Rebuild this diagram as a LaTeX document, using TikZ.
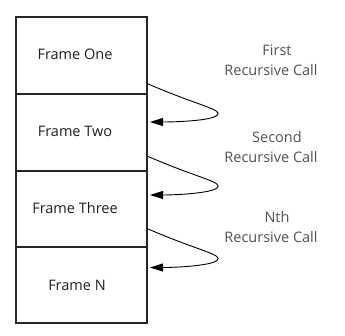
\documentclass[tikz,border=0pt]{standalone}
\usepackage{fontspec}
\setmainfont{Open Sans}
\usetikzlibrary{calc,arrows.meta}
\begin{document}
\begin{tikzpicture}[x=1pt,y=-1pt,
  frame/.style={draw=black!85,line width=1.2pt,minimum width=131pt,inner sep=0pt,outer sep=0pt},
  ftext/.style={anchor=base,font=\fontsize{14.5}{16}\selectfont,text=black!88},
  ctext/.style={anchor=base,font=\fontsize{14.5}{16}\selectfont,text=black!68},
  callarrow/.style={draw=black,line width=0.9pt,-{Triangle[length=13pt,width=8pt]}}]
\useasboundingbox (0,0) rectangle (345,336);
\node[frame,minimum height=77pt] (f1) at (81.5,55.5) {};
\node[frame,minimum height=77pt] (f2) at (81.5,132.5) {};
\node[frame,minimum height=76pt] (f3) at (81.5,209) {};
\node[frame,minimum height=76pt] (f4) at (81.5,285) {};
\node[ftext] (t1) at (75,60) {Frame One};
\node[ftext] (t2) at (75,137) {Frame Two};
\node[ftext] (t3) at (75,214) {Frame Three};
\node[ftext] (t4) at (77,290.5) {Frame N};
\node[ctext] (c1a) at (277,55.7) {First};
\node[ctext] (c1b) at (271,76) {Recursive Call};
\node[ctext] (c2a) at (277,142.7) {Second};
\node[ctext] (c2b) at (271,162.7) {Recursive Call};
\node[ctext] (c3a) at (277,222.7) {Nth};
\node[ctext] (c3b) at (271,242.7) {Recursive Call};
\coordinate (s1) at ($(f1.east)+(0,28)$);
\coordinate (s2) at ($(f2.east)+(0,23.5)$);
\coordinate (s3) at ($(f3.east)+(0,19.5)$);
\coordinate (e1) at ($(f2.east)+(3,-10.5)$);
\coordinate (e2) at ($(f3.east)+(3,-14)$);
\coordinate (e3) at ($(f4.east)+(3,-17.5)$);
\foreach \i in {1,2,3}{
  \draw[callarrow] (s\i) .. controls ($(s\i)+(53,23)$) and ($(s\i)+(77,26)$) .. ($(s\i)+(70,32)$)
    .. controls ($(s\i)+(64,37)$) and ($(e\i)+(28,0)$) .. (e\i);
}
\end{tikzpicture}
\end{document}
